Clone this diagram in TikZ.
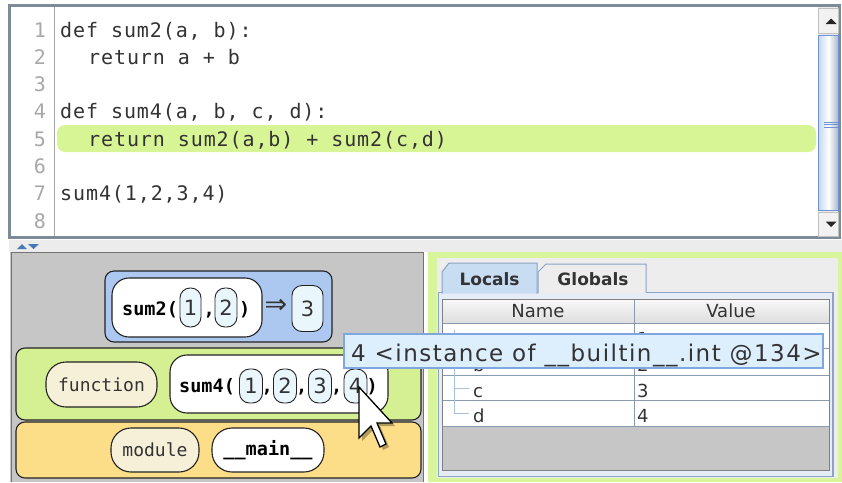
\documentclass[tikz,border=0pt]{standalone}
\usepackage{fontspec}
\setmainfont{DejaVu Sans}
\setmonofont{DejaVu Sans Mono}
\newfontfamily\codefont[LetterSpace=4.5]{DejaVu Sans Mono}
\newfontfamily\tipfont[LetterSpace=6.5]{DejaVu Sans}
\usetikzlibrary{shapes.geometric}
\definecolor{framegray}{HTML}{7D8B99}
\definecolor{hlgreen}{HTML}{D8F596}
\definecolor{codecol}{HTML}{333333}
\definecolor{numcol}{HTML}{A8A8A8}
\definecolor{thumbblue}{HTML}{C4D8EE}
\definecolor{thumbedge}{HTML}{6E92D8}
\definecolor{stripgray}{HTML}{ECECEC}
\definecolor{arrowblue}{HTML}{4A78B5}
\definecolor{panelgray}{HTML}{C6C6C6}
\definecolor{blueframe}{HTML}{ADC8F0}
\definecolor{greenframe}{HTML}{D4F092}
\definecolor{orangeframe}{HTML}{FDDE88}
\definecolor{cream}{HTML}{F7F0D9}
\definecolor{numfill}{HTML}{E9F6FC}
\definecolor{pillborder}{HTML}{222222}
\definecolor{rightgreen}{HTML}{D8F59B}
\definecolor{tabgray}{HTML}{EDEDED}
\definecolor{localsblue}{HTML}{C8DCF2}
\definecolor{tabedge}{HTML}{8CA3C4}
\definecolor{contentfill}{HTML}{E6EDF6}
\definecolor{gridcol}{HTML}{8A9BB0}
\definecolor{treecol}{HTML}{A9C1E1}
\definecolor{tipfill}{HTML}{DDEFFD}
\definecolor{tipedge}{HTML}{7FA6DE}
\begin{document}
\begin{tikzpicture}[x=1pt,y=-1pt,
  code/.style={anchor=base west, inner sep=0pt, text=codecol, font=\codefont\fontsize{20}{24}\selectfont},
  lnum/.style={anchor=base east, inner sep=0pt, text=numcol, font=\codefont\fontsize{20}{24}\selectfont},
  frame/.style={draw=pillborder, line width=1.1pt, rounded corners=9pt, inner sep=0pt},
  pill/.style={draw=pillborder, line width=1.1pt, rounded corners=20pt, inner sep=0pt, font=\ttfamily\fontsize{18}{20}\selectfont, text=codecol},
  callbox/.style={draw=pillborder, line width=1.1pt, rounded corners=17pt, fill=white, inner sep=0pt},
  numpill/.style={draw=pillborder, line width=0.9pt, fill=numfill, rounded corners=10pt, inner sep=0pt, text height=15.3pt, text depth=0pt, font=\fontsize{21}{23}\selectfont, text=codecol},
  calltext/.style={anchor=base west, inner sep=0pt, font=\ttfamily\bfseries\fontsize{18.5}{20}\selectfont, text=black},
  cell/.style={anchor=base west, inner sep=0pt, font=\fontsize{18}{20}\selectfont, text=codecol},
  head/.style={inner sep=0pt, font=\fontsize{18}{20}\selectfont, text=codecol},
  tab/.style={inner sep=0pt, font=\bfseries\fontsize{17}{20}\selectfont, text=codecol}]
\useasboundingbox (0,0) rectangle (842,482);
\fill[white] (0,0) rectangle (842,482);

% ---------- editor ----------
\draw[framegray, line width=3pt, fill=white] (9.5,5.5) rectangle (839.5,237.5);
\draw[black!35] (54,7) -- (54,236);
\fill[hlgreen, rounded corners=8pt] (57,125) rectangle (816,152);

\node[lnum] (n1) at (46,37) {1};
\node[lnum] (n2) at (46,64.3) {2};
\node[lnum] (n3) at (46,91.6) {3};
\node[lnum] (n4) at (46,118.9) {4};
\node[lnum] (n5) at (46,146.2) {5};
\node[lnum] (n6) at (46,173.5) {6};
\node[lnum] (n7) at (46,200.8) {7};
\node[lnum] (n8) at (46,228.1) {8};

\node[code] (c1) at (60,37) {def sum2(a, b):};
\node[code] (c2) at (88,64.3) {return a + b};
\node[code] (c4) at (60,118.9) {def sum4(a, b, c, d):};
\node[code] (c5) at (88,146.2) {return sum2(a,b) + sum2(c,d)};
\node[code] (c7) at (60,200.8) {sum4(1,2,3,4)};

% scrollbar
\fill[stripgray] (818,7) rectangle (838,236);
\draw[black!25, fill=black!5] (818.5,8) rectangle (838.5,33);
\fill[black!85] (825.5,24) -- (836.5,24) -- (831,18.5) -- cycle;
\shade[left color=thumbblue, right color=thumbblue!80!black!90, middle color=white] (818.5,35) rectangle (838.5,210);
\draw[thumbedge, line width=1pt] (818.5,35) rectangle (838.5,210);
\foreach \yy in {122,124.5,127} \draw[thumbedge, line width=0.8pt] (824,\yy) -- (838,\yy);
\draw[black!25, fill=black!5] (818.5,212) rectangle (838.5,236);
\fill[black!85] (825.5,221.5) -- (836.5,221.5) -- (831,227) -- cycle;

% divider strip
\fill[stripgray] (9,239.5) rectangle (842,252);
\fill[arrowblue] (17,249) -- (27,249) -- (22,244) -- cycle;
\fill[arrowblue] (28,244) -- (39,244) -- (33.5,249) -- cycle;

% ---------- left panel ----------
\fill[panelgray] (10,252) rectangle (424,482);
\draw[black!55, line width=1pt] (11,482) -- (11,252.5) -- (423.5,252.5) -- (423.5,482);

% sum2 frame
\node[frame, fill=blueframe, minimum width=227pt, minimum height=71pt] (f2) at (218.5,306.5) {};
\node[callbox, minimum width=150pt, minimum height=59pt] (b2) at (187,307.5) {};
\node[calltext] (t2) at (122,315) {sum2(};
\node[numpill, minimum width=21pt, minimum height=39pt] (a21) at (190.5,307.5) {1};
\node[calltext] (k21) at (203.5,315) {,};
\node[numpill, minimum width=22pt, minimum height=39pt] (a22) at (226,307.5) {2};
\node[calltext] (p2) at (239,315) {)};
\node[inner sep=0pt, font=\fontsize{27}{28}\selectfont, text=codecol] (imp) at (276,306) {⇒};
\node[numpill, minimum width=31pt, minimum height=46pt] (r2) at (307.5,308.5) {3};

% sum4 frame
\node[frame, fill=greenframe, minimum width=405pt, minimum height=72pt] (f4) at (218.5,384) {};
\node[pill, fill=cream, minimum width=111pt, minimum height=45pt] (fn) at (101.5,384.5) {function};
\node[callbox, minimum width=218pt, minimum height=58pt] (b4) at (279,384) {};
\node[calltext] (t4) at (179,392) {sum4(};
\node[numpill, minimum width=23pt, minimum height=34pt] (a41) at (251,386) {1};
\node[calltext] (k41) at (261.5,392) {,};
\node[numpill, minimum width=23pt, minimum height=34pt] (a42) at (285,386) {2};
\node[calltext] (k42) at (296,392) {,};
\node[numpill, minimum width=23pt, minimum height=34pt] (a43) at (320,386) {3};
\node[calltext] (k43) at (331,392) {,};
\node[numpill, minimum width=23pt, minimum height=34pt] (a44) at (355.5,386) {4};
\node[calltext] (p4) at (366.5,392) {)};

% module frame
\node[frame, fill=orangeframe, minimum width=405pt, minimum height=56pt] (fm) at (218.5,450) {};
\node[pill, fill=cream, minimum width=88pt, minimum height=44pt] (md) at (155,450) {module};
\node[pill, fill=white, minimum width=112pt, minimum height=44pt, font=\ttfamily\bfseries\fontsize{18.5}{20}\selectfont, text=black] (mn) at (268,450) {\_\_main\_\_};

% ---------- right panel ----------
\fill[white] (424,252) rectangle (428,482);
\fill[rightgreen] (428,252) rectangle (842,482);
\fill[tabgray] (437,258) rectangle (838,478);
\draw[tabedge, line width=1.2pt, fill=contentfill] (438.5,292.5) rectangle (833,476.5);
\draw[tabedge, line width=1pt, fill=localsblue] (442,293.5) -- (442,272) -- (449,263) -- (537,263) -- (537,293.5);
\draw[tabedge, line width=1pt, fill=tabgray] (538,293) -- (538,272) -- (546,264) -- (646,264) -- (646,293);
\node[tab] (loc) at (489.5,279) {Locals};
\node[tab] (glb) at (593,279) {Globals};

% table
\draw[black!50, fill=white] (442,299) rectangle (829,470);
\shade[top color=black!3, bottom color=black!13] (442.5,299.5) rectangle (828.5,323);
\fill[panelgray] (442.5,426) rectangle (828.5,469.5);
\foreach \yy in {323,348.5,375,400.7,426} \draw[gridcol, line width=0.9pt] (442,\yy) -- (829,\yy);
\draw[gridcol, line width=0.9pt] (634,299) -- (634,426);
\draw[black!50] (442,299) rectangle (829,470);
\node[head] (hn) at (538,311) {Name};
\node[head] (hv) at (731,311) {Value};

\draw[treecol, line width=1pt] (454,330) -- (454,413.5);
\foreach \yy in {336,362,388,413.5} \draw[treecol, line width=1pt] (454,\yy) -- (469,\yy);
\node[cell] (va) at (473,345) {a};
\node[cell] (vb) at (473,371.5) {b};
\node[cell] (vc) at (473,397) {c};
\node[cell] (vd) at (473,422.7) {d};
\node[cell] (w1) at (637,345) {1};
\node[cell] (w2) at (637,371.5) {2};
\node[cell] (w3) at (637,397) {3};
\node[cell] (w4) at (637,422.7) {4};

% ---------- tooltip ----------
\node[draw=tipedge, line width=1.2pt, fill=tipfill, minimum width=479pt, minimum height=34pt, inner sep=0pt] (tip) at (583.5,351) {};
\node[anchor=base west, inner sep=0pt, text=codecol, font=\tipfont\fontsize{23}{26}\selectfont] (tiptext) at (351,361.5) {4 <instance of \_\_builtin\_\_.int @134>};

% ---------- cursor ----------
\fill[black, opacity=0.3] (362,390) -- (362,441) -- (374,429) -- (383,450) -- (389,447) -- (380,426) -- (395,426) -- cycle;
\draw[black, line width=1.3pt, fill=white, line join=miter] (359,387) -- (359,438) -- (371,426) -- (380,447) -- (386,444) -- (377,423) -- (392,423) -- cycle;
\end{tikzpicture}
\end{document}
